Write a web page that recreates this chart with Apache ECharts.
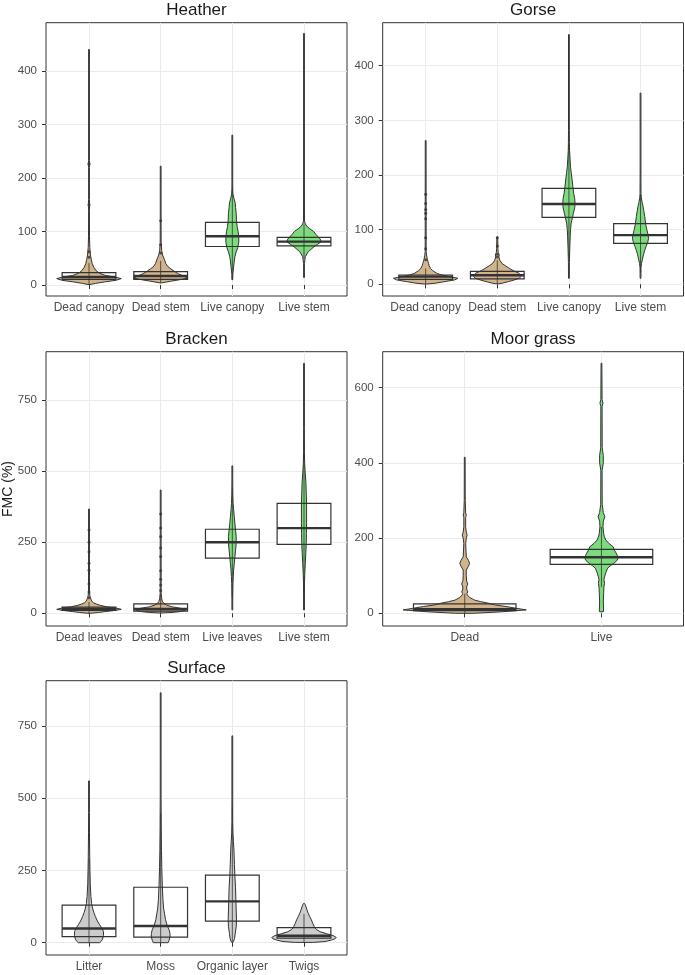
<!DOCTYPE html>
<html>
<head>
<meta charset="utf-8">
<script src="https://cdn.jsdelivr.net/npm/echarts@6/dist/echarts.min.js"></script>
<style>html,body{margin:0;padding:0;background:#fff}#c{width:685px;height:975px}</style>
</head>
<body>
<div id="c"></div>
<script>
// ---------------- DATA ----------------
const heatherCats = ['Dead canopy', 'Dead stem', 'Live canopy', 'Live stem'];
const gorseCats = ['Dead canopy', 'Dead stem', 'Live canopy', 'Live stem'];
const brackenCats = ['Dead leaves', 'Dead stem', 'Live leaves', 'Live stem'];
const moorCats = ['Dead', 'Live'];
const surfaceCats = ['Litter', 'Moss', 'Organic layer', 'Twigs'];

const heatherTicks = [0, 100, 200, 300, 400];
const gorseTicks = [0, 100, 200, 300, 400];
const brackenTicks = [0, 250, 500, 750];
const moorTicks = [0, 200, 400, 600];
const surfaceTicks = [0, 250, 500, 750];

// violin profiles: [FMC value, relative density]
const heatherViolins = [
  [[1,0.03],[3,0.2],[6,0.5],[9,0.85],[12,1.0],[15,0.8],[18,0.5],[22,0.32],[27,0.22],[33,0.15],[40,0.1],[48,0.07],[56,0.045],[70,0.025],[90,0.015],[140,0.012],[150,0.02],[160,0.012],[220,0.012],[226,0.025],[232,0.012],[440,0.008]],
  [[4,0.03],[7,0.3],[10,0.6],[13,0.85],[17,0.7],[21,0.55],[25,0.44],[30,0.32],[34,0.23],[40,0.16],[47,0.12],[56,0.06],[65,0.03],[80,0.015],[120,0.012],[222,0.008]],
  [[10,0.008],[20,0.015],[34,0.04],[45,0.06],[53,0.08],[62,0.12],[70,0.17],[80,0.2],[90,0.2],[100,0.18],[109,0.15],[120,0.13],[134,0.12],[145,0.1],[153,0.09],[162,0.05],[170,0.02],[180,0.01],[280,0.008]],
  [[14,0.008],[40,0.012],[53,0.04],[62,0.13],[70,0.28],[76,0.42],[81,0.54],[86,0.5],[90,0.44],[95,0.36],[100,0.3],[105,0.18],[109,0.1],[114,0.04],[120,0.015],[200,0.01],[470,0.008]]
];
const gorseViolins = [
  [[0.5,0.03],[2,0.3],[5,0.6],[8,0.9],[11,1.0],[14,0.75],[17,0.5],[20,0.35],[25,0.22],[29,0.15],[34,0.11],[38,0.09],[42,0.07],[46,0.05],[52,0.03],[60,0.015],[263,0.008]],
  [[1,0.05],[2,0.15],[5,0.35],[8,0.53],[11,0.68],[14,0.73],[17,0.7],[20,0.68],[25,0.5],[29,0.38],[34,0.25],[38,0.15],[44,0.08],[50,0.05],[54,0.06],[58,0.03],[65,0.02],[87,0.01]],
  [[11,0.008],[40,0.015],[63,0.025],[87,0.04],[100,0.05],[112,0.07],[122,0.11],[130,0.14],[140,0.18],[148,0.19],[157,0.18],[166,0.15],[180,0.12],[191,0.1],[205,0.07],[215,0.05],[230,0.035],[245,0.02],[260,0.015],[282,0.01],[457,0.008]],
  [[11,0.008],[30,0.015],[38,0.03],[46,0.06],[54,0.09],[62,0.13],[69,0.17],[76,0.22],[84,0.25],[92,0.23],[99,0.2],[110,0.16],[124,0.13],[135,0.1],[142,0.08],[150,0.05],[158,0.025],[166,0.015],[200,0.01],[350,0.008]]
];
const brackenViolins = [
  [[0,0.04],[3,0.3],[6,0.5],[10,0.8],[14,1.0],[18,0.85],[23,0.55],[28,0.35],[33,0.22],[37,0.14],[41,0.1],[47,0.07],[53,0.05],[60,0.03],[75,0.015],[367,0.008]],
  [[1,0.04],[3,0.35],[6,0.6],[10,0.75],[14,0.8],[18,0.6],[23,0.35],[29,0.18],[35,0.1],[41,0.06],[47,0.04],[55,0.03],[70,0.015],[434,0.008]],
  [[12,0.008],[50,0.012],[106,0.02],[130,0.03],[152,0.04],[175,0.06],[199,0.08],[222,0.1],[246,0.12],[270,0.12],[293,0.1],[316,0.08],[340,0.06],[365,0.04],[387,0.025],[420,0.015],[470,0.01],[519,0.008]],
  [[12,0.008],[60,0.01],[106,0.015],[140,0.025],[176,0.04],[210,0.055],[246,0.07],[280,0.075],[317,0.08],[350,0.08],[387,0.08],[420,0.07],[458,0.06],[490,0.04],[528,0.02],[570,0.012],[650,0.01],[880,0.008]]
];
const moorViolins = [
  [[0,0.15],[4,0.6],[9,1.0],[13,0.85],[18,0.67],[22,0.5],[27,0.38],[31,0.26],[35,0.16],[42,0.08],[49,0.04],[53,0.035],[57,0.05],[62,0.035],[70,0.03],[78,0.05],[86,0.03],[100,0.025],[115,0.025],[125,0.06],[133,0.08],[141,0.06],[150,0.025],[185,0.015],[200,0.025],[208,0.04],[216,0.025],[230,0.015],[255,0.015],[261,0.025],[267,0.015],[300,0.008],[415,0.006]],
  [[4,0.03],[9,0.035],[30,0.03],[53,0.035],[70,0.04],[80,0.05],[90,0.04],[97,0.05],[108,0.07],[120,0.1],[127,0.15],[133,0.2],[140,0.25],[146,0.27],[153,0.26],[160,0.24],[168,0.21],[177,0.19],[186,0.12],[195,0.07],[205,0.045],[213,0.035],[230,0.025],[245,0.03],[257,0.055],[268,0.03],[290,0.012],[380,0.01],[400,0.03],[420,0.03],[440,0.012],[550,0.01],[559,0.025],[568,0.01],[665,0.006]]
];
const surfaceViolins = [
  [[0,0.33],[5,0.38],[12,0.42],[25,0.45],[38,0.45],[50,0.4],[62,0.33],[75,0.26],[90,0.2],[105,0.15],[120,0.11],[136,0.08],[160,0.06],[200,0.04],[250,0.03],[300,0.022],[380,0.015],[450,0.012],[560,0.008]],
  [[0,0.23],[8,0.26],[20,0.29],[32,0.29],[45,0.26],[60,0.2],[80,0.15],[100,0.12],[120,0.09],[150,0.07],[200,0.05],[260,0.035],[320,0.025],[400,0.018],[500,0.013],[650,0.01],[865,0.008]],
  [[0,0.01],[5,0.04],[15,0.07],[32,0.09],[55,0.12],[79,0.13],[110,0.12],[148,0.11],[190,0.1],[228,0.08],[270,0.065],[321,0.05],[350,0.035],[380,0.02],[420,0.012],[500,0.01],[716,0.008]],
  [[1,0.3],[4,0.65],[9,0.85],[14,0.97],[18,1.0],[25,0.9],[31,0.7],[38,0.5],[46,0.38],[55,0.32],[67,0.27],[79,0.23],[90,0.18],[102,0.13],[114,0.09],[125,0.06],[131,0.04],[136,0.01]]
];

// boxes: [lower whisker, Q1, median, Q3, upper whisker]
const heatherBoxes = [[1,10.5,15,23,41],[4,10.6,16.8,25,45],[10,72,91,117,184],[50,73,81,89,113]];
const gorseBoxes = [[0.5,9,14,17,29],[1,10,16.5,23.8,44],[50,122.6,147,175.6,255],[22,75,90,111,165]];
const brackenBoxes = [[0,10,15,22,40],[1,8,15,33,70],[50,194,250,296,440],[12,243,300,387,600]];
const moorBoxes = [[0,7,11,25,52],[70,130,149,170,230]];
const surfaceBoxes = [[0,21,49,130,290],[0,19,58,192,450],[0,75,143,234,470],[1,16,24,52,100]];

// outlier dots along tails
const heatherOutliers = [[52,62,150,226],[60,75,120],[],[]];
const gorseOutliers = [[45,65,85,120,130,137,148,165],[50,55,70,85],[],[]];
const brackenOutliers = [[55,75,103,152,176,217,250,293],[80,100,120,150,200,230,270,300,350],[],[]];
const moorOutliers = [[],[]];
const surfaceOutliers = [[],[],[],[]];

// ---------------- CHART ----------------
const TAN = '#D2B48C', GREEN = '#7CDB7C', GREY = '#CCCCCC';
const FONT = '"Liberation Sans", Arial, sans-serif';
const panels = [
  {title:'Heather', cats:heatherCats, ticks:heatherTicks, yMin:-20.5, yMax:490, vio:heatherViolins, box:heatherBoxes, out:heatherOutliers, fills:[TAN,TAN,GREEN,GREEN], rect:{left:46, top:22.7, width:301, height:273.3}, ty:10.8},
  {title:'Gorse', cats:gorseCats, ticks:gorseTicks, yMin:-21.4, yMax:478.7, vio:gorseViolins, box:gorseBoxes, out:gorseOutliers, fills:[TAN,TAN,GREEN,GREEN], rect:{left:382.7, top:22.7, width:300.8, height:273.3}, ty:10.8},
  {title:'Bracken', cats:brackenCats, ticks:brackenTicks, yMin:-44.7, yMax:921, vio:brackenViolins, box:brackenBoxes, out:brackenOutliers, fills:[TAN,TAN,GREEN,GREEN], rect:{left:46, top:351.7, width:301, height:274.3}, ty:339.6},
  {title:'Moor grass', cats:moorCats, ticks:moorTicks, yMin:-33.8, yMax:695.7, vio:moorViolins, box:moorBoxes, out:moorOutliers, fills:[TAN,GREEN], rect:{left:382.7, top:351.7, width:300.8, height:274.3}, ty:339.6},
  {title:'Surface', cats:surfaceCats, ticks:surfaceTicks, yMin:-42.6, yMax:907, vio:surfaceViolins, box:surfaceBoxes, out:surfaceOutliers, fills:[GREY,GREY,GREY,GREY], rect:{left:46, top:680.7, width:301, height:274.3}, ty:668.3}
];

const grid = [], xAxis = [], yAxis = [], series = [], graphic = [];
panels.forEach((p, gi) => {
  const n = p.cats.length;
  const pos = p.cats.map((c, i) => i + 1);
  grid.push(Object.assign({show:true, borderColor:'#333333', borderWidth:1, backgroundColor:'#ffffff', containLabel:false}, p.rect));
  xAxis.push({
    type:'value', gridIndex:gi, min:0.4, max:n + 0.6,
    axisLine:{show:false},
    axisTick:{show:true, customValues:pos, length:4, lineStyle:{color:'#333333', width:1}},
    axisLabel:{show:true, customValues:pos, formatter:v => p.cats[Math.round(v) - 1] || '', color:'#4D4D4D', fontSize:12, fontFamily:FONT, margin:6},
    splitLine:{show:true, lineStyle:{color:'#EBEBEB', width:1}}
  });
  yAxis.push({
    type:'value', gridIndex:gi, min:p.yMin, max:p.yMax,
    axisLine:{show:false},
    axisTick:{show:true, customValues:p.ticks, length:4, lineStyle:{color:'#333333', width:1}},
    axisLabel:{show:true, customValues:p.ticks, color:'#4D4D4D', fontSize:11.5, fontFamily:FONT, margin:9},
    splitLine:{show:true, lineStyle:{color:'#EBEBEB', width:1}}
  });
  const boxData = p.box.map((b, i) => [i + 1].concat(b));
  // white box fill (below violin)
  series.push({
    type:'custom', xAxisIndex:gi, yAxisIndex:gi, z:2, silent:true,
    data:boxData, encode:{x:0, y:[1,2,3,4,5]},
    renderItem:(params, api) => {
      const x = api.value(0);
      const hw = api.size([0.375, 0])[0];
      const a = api.coord([x, api.value(4)]), b = api.coord([x, api.value(2)]);
      return {type:'rect', shape:{x:a[0] - hw, y:a[1], width:2 * hw, height:b[1] - a[1]}, style:{fill:'#ffffff'}};
    }
  });
  // violins
  series.push({
    type:'custom', xAxisIndex:gi, yAxisIndex:gi, z:3, silent:true,
    data:p.vio.map((v, i) => ({value:[i + 1, v[0][0], v[v.length - 1][0]], itemStyle:{color:p.fills[i]}})),
    encode:{x:0, y:[1,2]},
    renderItem:(params, api) => {
      const i = params.dataIndex, x = api.value(0);
      const unit = api.size([1, 0])[0];
      const left = [], right = [];
      p.vio[i].forEach(([v, d]) => {
        const c = api.coord([x, v]);
        const hw = Math.max(d * 0.45 * unit, 0.4);
        left.push([c[0] - hw, c[1]]);
        right.push([c[0] + hw, c[1]]);
      });
      return {type:'polygon', shape:{points:left.concat(right.reverse())}, style:{fill:p.fills[i], stroke:'#333333', lineWidth:1}};
    }
  });
  // box outline, median, centre line
  series.push({
    type:'custom', xAxisIndex:gi, yAxisIndex:gi, z:4, silent:true,
    data:boxData, encode:{x:0, y:[1,2,3,4,5]},
    renderItem:(params, api) => {
      const x = api.value(0);
      const hw = api.size([0.375, 0])[0];
      const lo = api.coord([x, api.value(1)]), q1 = api.coord([x, api.value(2)]), md = api.coord([x, api.value(3)]), q3 = api.coord([x, api.value(4)]), hi = api.coord([x, api.value(5)]);
      return {type:'group', children:[
        {type:'line', shape:{x1:lo[0], y1:lo[1], x2:hi[0], y2:hi[1]}, style:{stroke:'#333333', lineWidth:0.8}},
        {type:'rect', shape:{x:q3[0] - hw, y:q3[1], width:2 * hw, height:q1[1] - q3[1]}, style:{fill:null, stroke:'#333333', lineWidth:1.2}},
        {type:'line', shape:{x1:md[0] - hw, y1:md[1], x2:md[0] + hw, y2:md[1]}, style:{stroke:'#333333', lineWidth:2.4}}
      ]};
    }
  });
  // outliers
  const od = [];
  p.out.forEach((arr, i) => arr.forEach(v => od.push([i + 1, v])));
  series.push({
    type:'scatter', xAxisIndex:gi, yAxisIndex:gi, z:5, silent:true,
    data:od, symbolSize:3, itemStyle:{color:'#333333'}
  });
  graphic.push({type:'text', x:p.rect.left + p.rect.width / 2, y:p.ty, style:{text:p.title, font:'17px ' + FONT, fill:'#1A1A1A', textAlign:'center', textVerticalAlign:'middle'}});
});
graphic.push({type:'text', x:8, y:489, rotation:Math.PI / 2, style:{text:'FMC (%)', font:'14px ' + FONT, fill:'#1A1A1A', textAlign:'center', textVerticalAlign:'middle'}});

const chart = echarts.init(document.getElementById('c'), null, {renderer:'canvas'});
chart.setOption({animation:false, backgroundColor:'#ffffff', grid, xAxis, yAxis, series, graphic});
</script>
</body>
</html>
